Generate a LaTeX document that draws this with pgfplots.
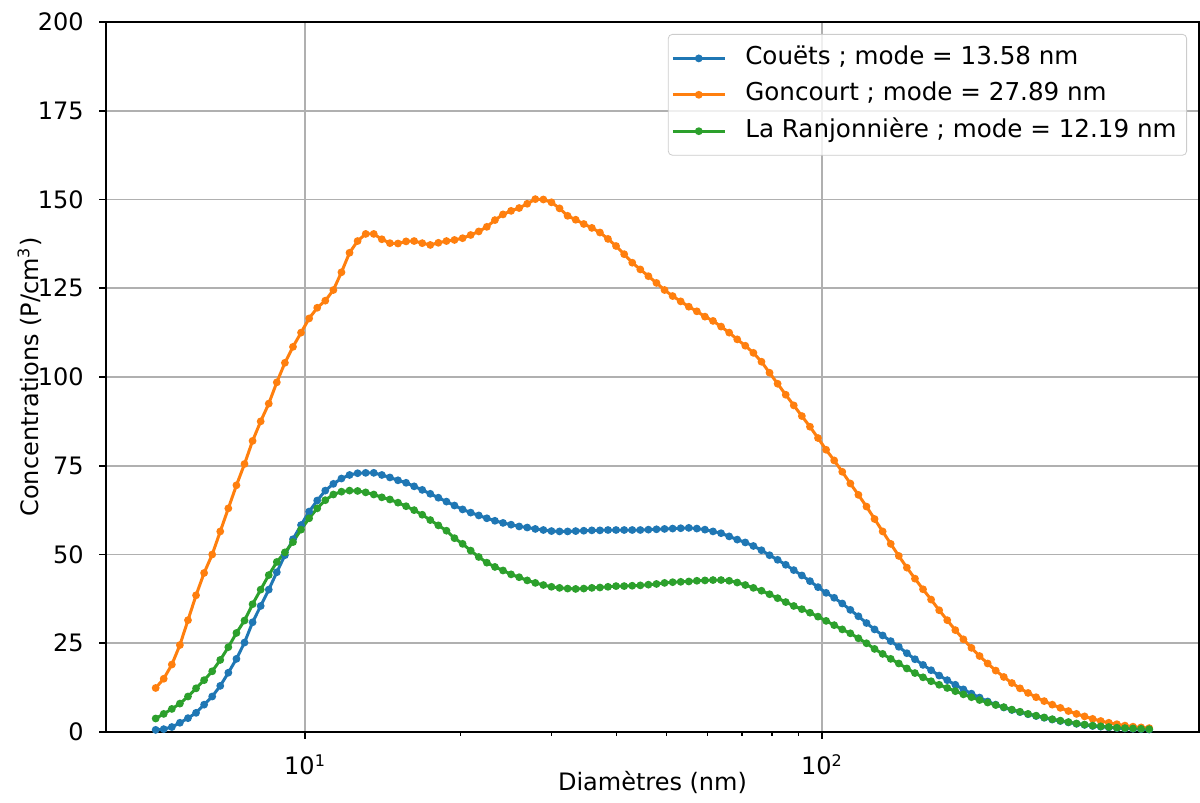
\documentclass[border=0pt]{standalone}
\usepackage{pgfplots}
\pgfplotsset{compat=1.18}
\usepackage{pgfplotstable}
\usepackage{fontspec}
\setmainfont{DejaVu Sans}
\definecolor{tabblue}{HTML}{1F77B4}
\definecolor{taborange}{HTML}{FF7F0E}
\definecolor{tabgreen}{HTML}{2CA02C}
\definecolor{gridgray}{HTML}{B0B0B0}

\pgfplotstableread{
d c g r
5.140 0.6 12.4 3.8
5.328 0.8 15.0 5.1
5.524 1.4 19.0 6.5
5.726 2.6 24.5 8.0
5.936 3.9 31.5 10.0
6.153 5.4 38.5 12.3
6.378 7.7 44.8 14.6
6.612 10.0 50.0 17.1
6.854 13.0 56.5 20.3
7.105 16.7 63.0 23.9
7.366 20.6 69.5 27.9
7.636 25.2 75.5 31.4
7.915 30.9 82.0 36.0
8.205 35.5 87.5 40.1
8.506 40.1 92.5 44.2
8.817 45.0 98.5 47.9
9.140 49.8 104.0 50.6
9.475 54.3 108.5 53.5
9.822 58.3 112.5 57.0
10.182 62.1 116.5 60.2
10.555 65.2 119.5 63.0
10.942 68.0 121.5 65.3
11.343 69.9 124.5 66.9
11.758 71.4 129.5 67.7
12.189 72.4 135.0 68.0
12.635 72.9 138.3 67.9
13.098 73.0 140.3 67.5
13.578 73.0 140.3 66.9
14.076 72.4 138.8 66.1
14.591 71.7 137.7 65.5
15.126 70.9 137.6 64.6
15.680 70.2 138.2 63.6
16.254 69.2 138.3 62.5
16.850 68.2 137.7 61.2
17.467 67.1 137.2 59.7
18.107 66.0 137.8 58.2
18.770 64.9 138.3 56.7
19.457 63.8 138.6 54.6
20.170 62.7 139.1 53.0
20.909 61.8 140.0 51.1
21.675 61.0 141.0 49.3
22.469 60.2 142.3 47.7
23.292 59.5 144.2 46.5
24.146 58.9 145.8 45.5
25.030 58.4 146.8 44.4
25.947 57.9 147.6 43.6
26.898 57.6 148.8 42.7
27.883 57.2 150.1 42.0
28.904 56.9 150.0 41.4
29.963 56.6 149.2 40.9
31.061 56.5 147.5 40.6
32.199 56.5 145.4 40.4
33.378 56.6 144.3 40.3
34.601 56.7 143.1 40.4
35.869 56.8 142.0 40.6
37.183 56.8 140.7 40.7
38.545 56.9 138.9 40.9
39.957 56.9 136.9 41.1
41.420 56.9 134.6 41.1
42.938 56.9 132.2 41.2
44.511 56.9 130.3 41.3
46.141 57.0 128.4 41.5
47.831 57.1 126.5 41.7
49.584 57.2 124.5 42.0
51.40 57.3 122.8 42.2
53.28 57.4 121.3 42.3
55.24 57.5 119.8 42.4
57.26 57.3 118.5 42.6
59.36 57.0 117.0 42.7
61.53 56.5 115.8 42.8
63.78 56.0 114.2 42.8
66.12 55.1 112.5 42.6
68.54 54.2 110.6 42.1
71.05 53.4 108.8 41.4
73.66 52.4 106.8 40.6
76.36 51.2 104.3 39.8
79.15 49.8 101.2 38.8
82.05 48.5 98.1 37.7
85.06 47.1 95.0 36.6
88.17 45.6 92.0 35.5
91.40 44.1 89.0 34.6
94.75 42.5 86.0 33.6
98.22 40.8 82.8 32.5
101.82 39.2 79.5 31.3
105.55 37.8 76.5 30.1
109.42 36.2 73.3 28.9
113.43 34.4 70.0 27.8
117.58 32.6 66.8 26.4
121.89 30.7 63.5 25.0
126.35 28.9 60.0 23.4
130.98 27.2 56.5 22.0
135.78 25.6 53.0 20.6
140.76 24.0 49.6 19.3
145.91 22.2 46.3 17.9
151.26 20.5 43.2 16.6
156.80 18.9 40.2 15.4
162.54 17.4 37.3 14.3
168.50 15.9 34.3 13.3
174.67 14.6 31.5 12.4
181.07 13.3 28.7 11.5
187.70 12.0 26.1 10.6
194.57 10.8 23.7 9.8
201.70 9.7 21.4 9.0
209.09 8.6 19.3 8.3
216.75 7.7 17.3 7.6
224.69 6.9 15.5 7.0
232.92 6.2 13.8 6.3
241.46 5.6 12.3 5.7
250.30 5.0 11.0 5.1
259.47 4.5 9.8 4.6
268.98 4.0 8.7 4.1
278.83 3.5 7.7 3.6
289.04 3.1 6.8 3.2
299.63 2.7 5.9 2.8
310.61 2.3 5.1 2.4
321.99 2.0 4.4 2.1
333.78 1.7 3.7 1.8
346.01 1.5 3.1 1.6
358.69 1.3 2.6 1.4
371.83 1.1 2.2 1.2
385.45 1.0 1.8 1.1
399.57 0.9 1.5 1.0
414.20 0.8 1.3 0.9
429.38 0.7 1.1 0.8
}\datatable

\begin{document}
\fontsize{12}{14.4}\selectfont
\begin{tikzpicture}
\begin{axis}[
  name=ax,
  scale only axis,
  width=546.5pt, height=355pt,
  xmode=log,
  xmin=4.12, xmax=536,
  ymin=0, ymax=200,
  xtick={10,100},
  xticklabels={10\textsuperscript{1},10\textsuperscript{2}},
  ytick={0,25,50,75,100,125,150,175,200},
  /pgf/number format/assume math mode=true,
  grid=major,
  major grid style={gridgray, line width=0.8pt},
  tick align=outside,
  tick pos=left,
  major tick length=3.5pt,
  minor tick length=2pt,
  every tick/.style={black, line width=0.8pt},
  minor tick style={black, line width=0.6pt},
  axis line style={black, line width=0.8pt},
  xticklabel style={yshift=-3.5pt},
  yticklabel style={xshift=-3.5pt},
  xlabel={Diamètres (nm)},
  ylabel={Concentrations (P/cm\textsuperscript{3})},
  xlabel style={at={(axis description cs:0.5,-0.0817)}, anchor=base},
  ylabel style={at={(axis description cs:-0.0622,0.5)}, anchor=base, rotate=0},
  legend cell align=left,
  legend image code/.code={\draw[mark repeat=2,mark phase=2] plot coordinates {(0pt,0pt) (13pt,0pt) (26pt,0pt)};},
  legend style={at={(axis description cs:1,1)}, anchor=north east, xshift=-6pt, yshift=-6pt,
    draw=black!20, rounded corners=2pt, fill=white, fill opacity=0.8, text opacity=1,
    inner xsep=1.5pt, inner ysep=4pt, row sep=2.2pt, column sep=6pt,
    font=\fontsize{12.3}{14.5}\selectfont,
    nodes={inner xsep=3.5pt, inner ysep=2pt, text height=9pt, text depth=3pt}},
  every axis plot/.append style={line width=1.5pt, mark=*, mark size=1.15pt, mark options={solid, line width=0.5pt}},
]
\addplot[color=tabblue, mark options={fill=tabblue}] table[x=d, y=c] {\datatable};
\addlegendentry{Couëts ; mode = 13.58 nm}
\addplot[color=taborange, mark options={fill=taborange}] table[x=d, y=g] {\datatable};
\addlegendentry{Goncourt ; mode = 27.89 nm}
\addplot[color=tabgreen, mark options={fill=tabgreen}] table[x=d, y=r] {\datatable};
\addlegendentry{La Ranjonnière ; mode = 12.19 nm}
\end{axis}
\pgfresetboundingbox
\path ([shift={(-53pt,-35.5pt)}]ax.south west) rectangle ([shift={(0.5pt,11pt)}]ax.north east);
\end{tikzpicture}
\end{document}
